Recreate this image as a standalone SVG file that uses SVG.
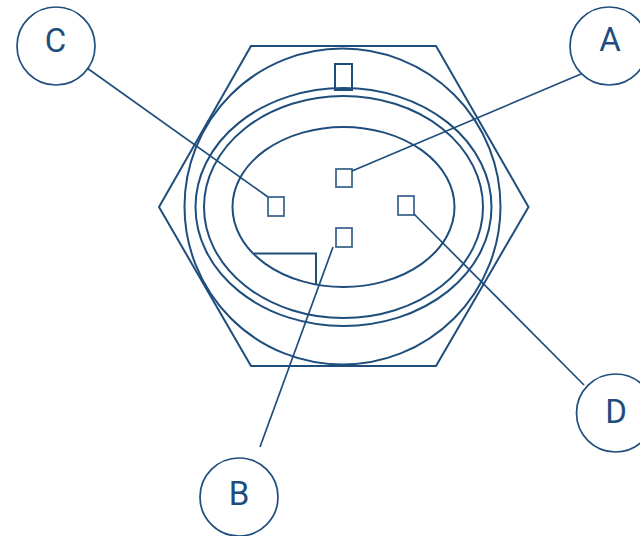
<svg xmlns="http://www.w3.org/2000/svg" width="640" height="536" viewBox="0 0 640 536">
<style>
.s{fill:none;stroke:#1f4e7d;stroke-width:2}
.p{fill:none;stroke:#1f4e7d;stroke-width:1.8;opacity:.85}
.c{fill:none;stroke:#1f4e7d;stroke-width:1.7}
.t{font-family:Roboto,"Liberation Sans",sans-serif;font-size:33px;fill:#1f4e7d;text-anchor:middle}
</style>
<rect width="640" height="536" fill="#fff"/>
<g id="body">
<polygon class="s" points="251,46 436,46 528.500,207 436,366 251,366 159,207"/>
<circle class="s" cx="342.500" cy="206.500" r="158"/>
<ellipse class="s" cx="343.500" cy="207" rx="148" ry="119"/>
<ellipse class="s" cx="343.500" cy="207" rx="139.500" ry="111"/>
<ellipse class="s" cx="343.500" cy="207" rx="111" ry="80"/>
<rect class="s" x="335" y="64" width="17" height="26"/>
<path class="s" d="M254,253.500H316V284"/>
</g>
<g id="pins">
<rect id="pin-a" class="p" x="336" y="169" width="16" height="18"/>
<rect id="pin-b" class="p" x="336" y="228" width="16" height="19"/>
<rect id="pin-c" class="p" x="268" y="197" width="16" height="19"/>
<rect id="pin-d" class="p" x="398" y="196" width="16" height="19"/>
</g>
<g id="connectors">
<line class="c" x1="581" y1="74" x2="352" y2="171"/>
<line class="c" x1="333" y1="247" x2="260" y2="447"/>
<line class="c" x1="87" y1="68" x2="268" y2="197"/>
<line class="c" x1="414" y1="214" x2="584" y2="385"/>
</g>
<g id="node-a"><circle class="c" cx="609" cy="46" r="39"/><text class="t" x="610" y="51">A</text></g>
<g id="node-b"><circle class="c" cx="239" cy="497" r="39"/><text class="t" x="239" y="505">B</text></g>
<g id="node-c"><circle class="c" cx="56" cy="46" r="39"/><text class="t" x="55.500" y="52">C</text></g>
<g id="node-d"><circle class="c" cx="615.500" cy="413" r="39"/><text class="t" x="616" y="423">D</text></g>
</svg>
